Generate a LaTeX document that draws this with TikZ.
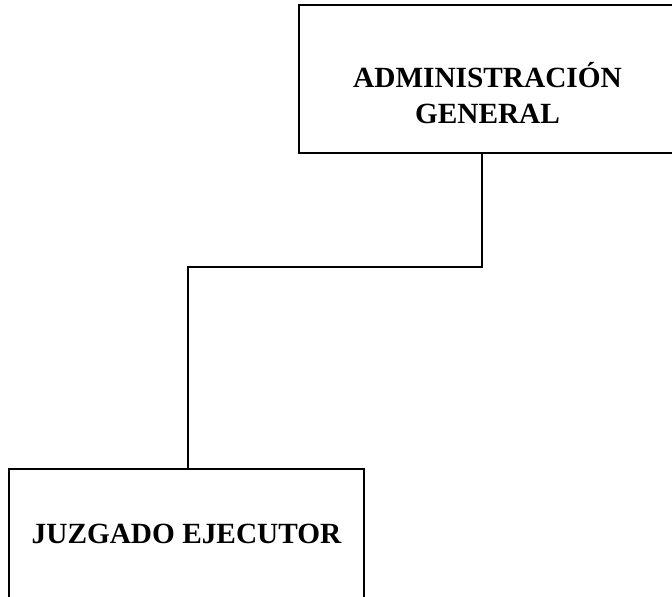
\documentclass[tikz,border=0pt]{standalone}
\usepackage{fontspec}
\setmainfont{Liberation Serif}
\begin{document}
\begin{tikzpicture}[x=1pt,y=-1pt,
  orgbox/.style={draw=black,line width=1.6pt,fill=white,rectangle,inner sep=0pt},
  orglabel/.style={font=\fontsize{29.3}{36}\selectfont\bfseries,inner sep=0pt,anchor=base},
  link/.style={draw=black,line width=1.6pt}]
\useasboundingbox (0,0) rectangle (672,597);
% boxes
\node[orgbox,minimum width=377pt,minimum height=148pt] (admin) at (487.5,79) {};
\node[orgbox,minimum width=355pt,minimum height=140pt] (juzgado) at (186.5,539) {};
% labels
\node[orglabel] (adminA) at (487.5,87) {ADMINISTRACIÓN};
\node[orglabel] (adminB) at (487.5,123) {GENERAL};
\node[orglabel] (juzgadoA) at (186.5,543) {JUZGADO EJECUTOR};
% connector
\coordinate (bend) at (188,267);
\draw[link] ([xshift=-5.5pt]admin.south) |- (bend) -- (bend |- juzgado.north);
\end{tikzpicture}
\end{document}
